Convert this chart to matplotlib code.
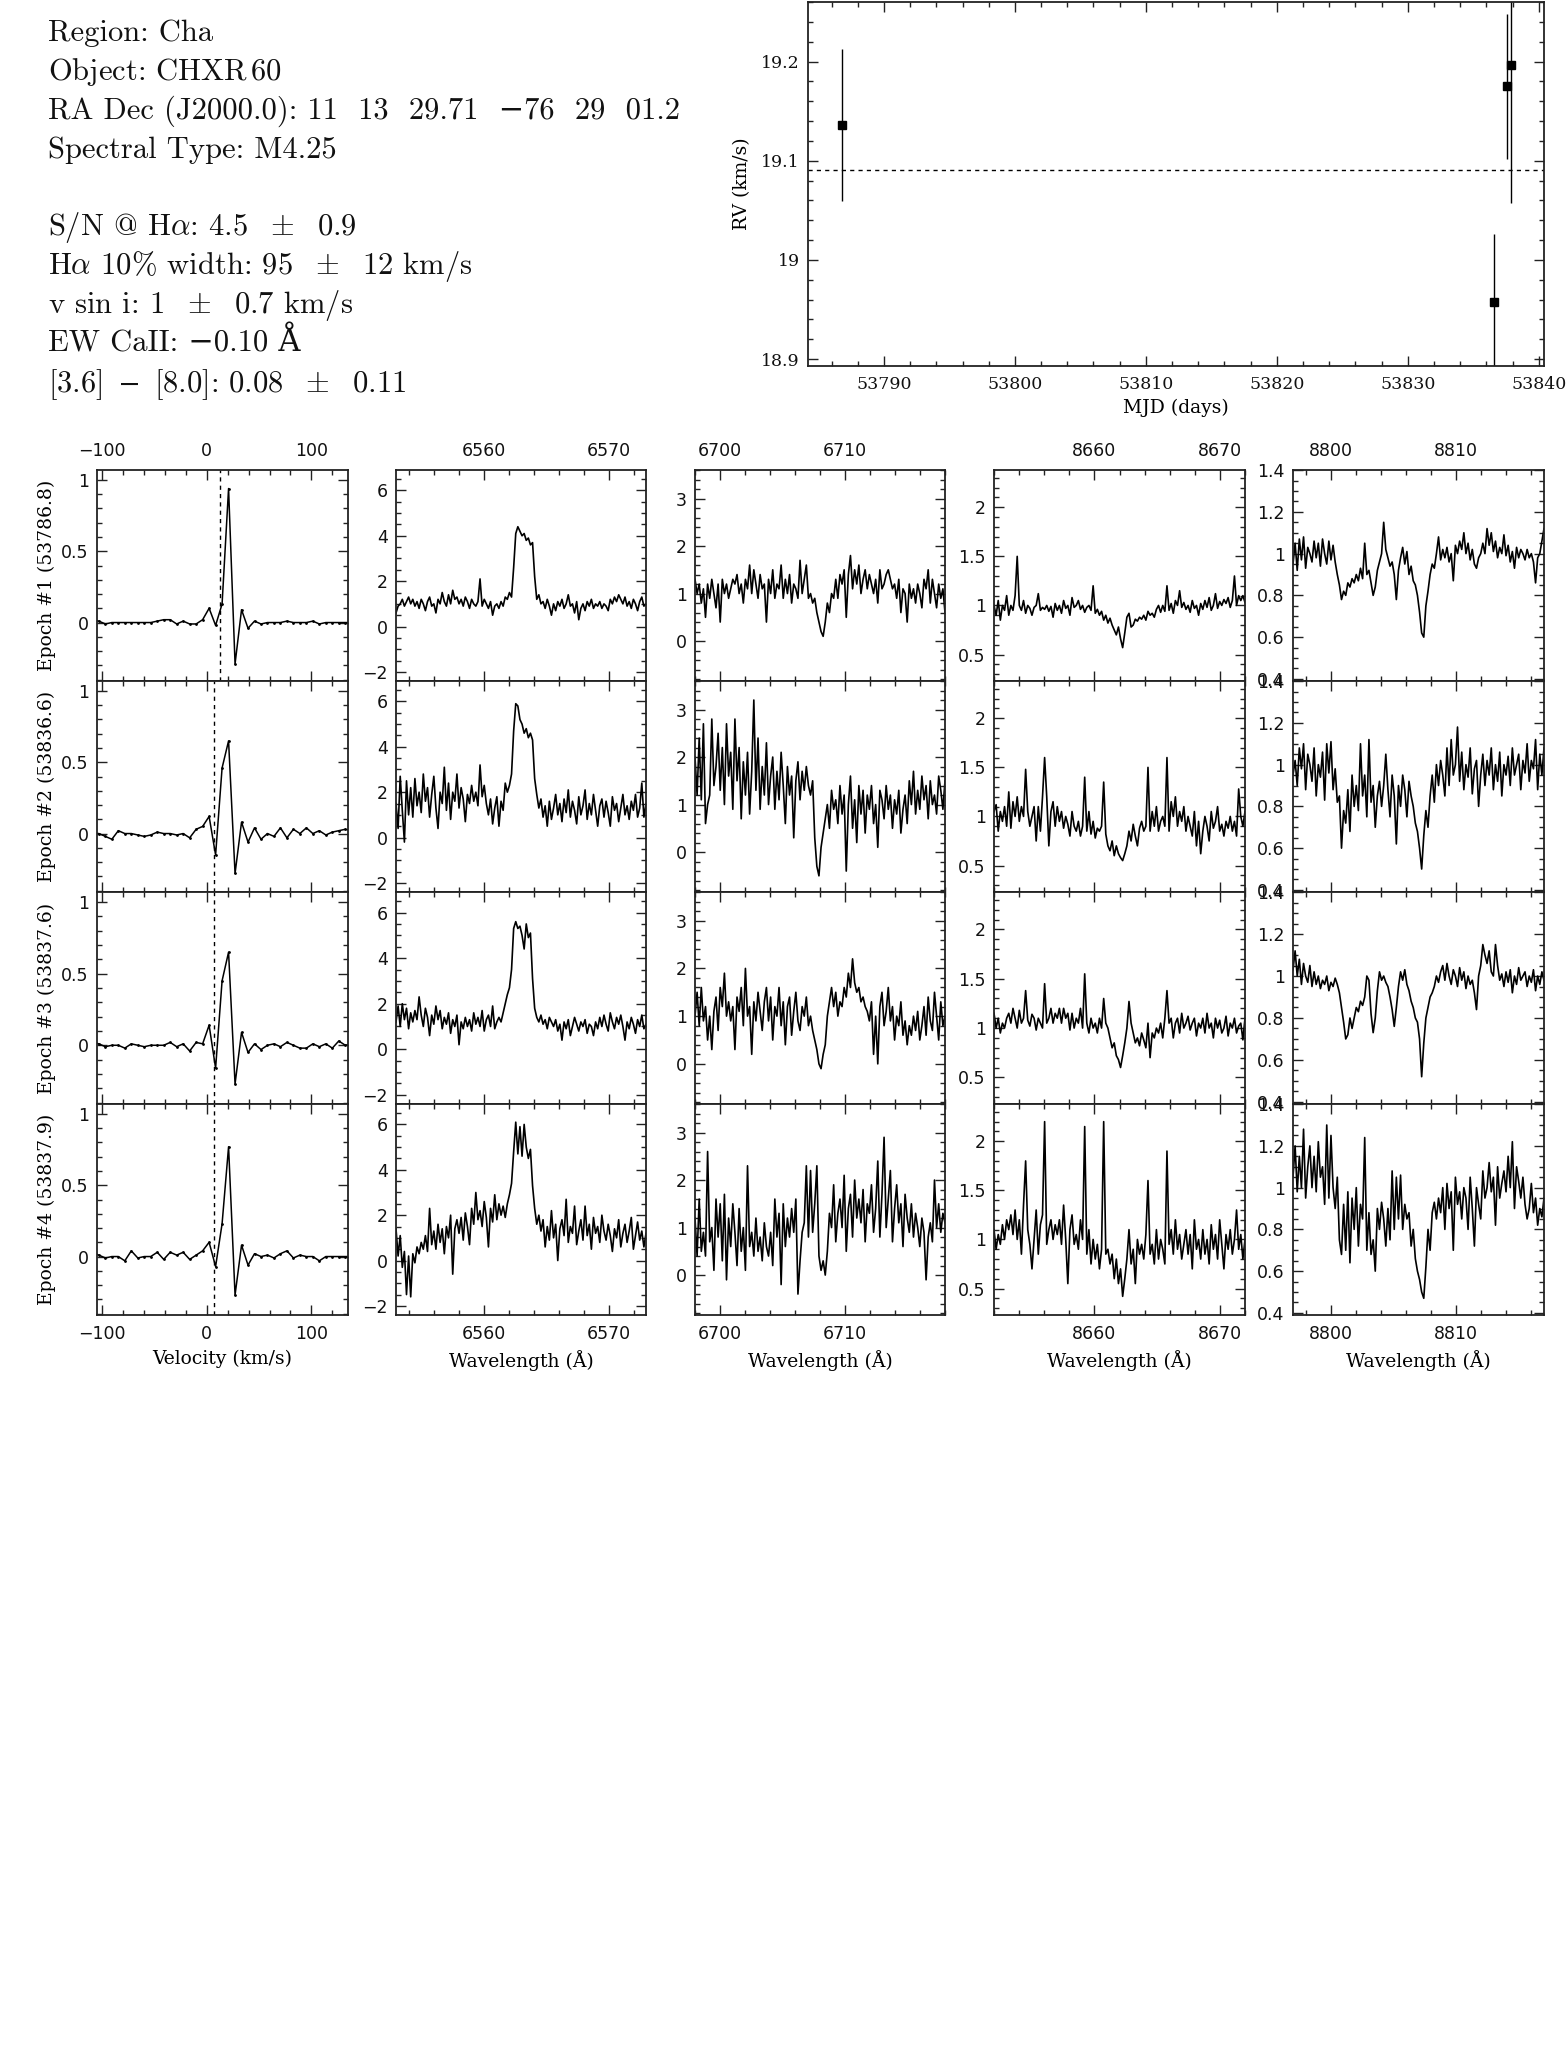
import numpy as np
import matplotlib.pyplot as plt
from matplotlib.ticker import MultipleLocator, FuncFormatter

plt.rcParams['mathtext.fontset'] = 'cm'

# ---- header text ----
header_lines = [
    "Region: Cha",
    "Object: CHXR$\\,$60",
    "RA Dec (J2000.0): 11  13  29.71  \u221276  29  01.2",
    "Spectral Type: M4.25",
    "S/N @ H$\\alpha$: 4.5 $\\;\\pm\\;$ 0.9",
    "H$\\alpha$ 10% width: 95 $\\;\\pm\\;$ 12 km/s",
    "v sin i: 1 $\\;\\pm\\;$ 0.7 km/s",
    "EW CaII: \u22120.10 \u00c5",
    "[3.6] $\\,\\minus\\,$ [8.0]: 0.08 $\\;\\pm\\;$ 0.11",
]

# ---- radial velocities ----
mjd = [53786.8, 53836.6, 53837.6, 53837.9]
rv = [19.136, 18.958, 19.175, 19.196]
rv_err = [0.077, 0.068, 0.073, 0.139]
rv_mean = 19.0905

epoch_labels = ["Epoch #1 (53786.8)", "Epoch #2 (53836.6)",
                "Epoch #3 (53837.6)", "Epoch #4 (53837.9)"]

# ---- cross-correlation functions ----
ccf_vel = [-109.4, -103.2, -97.0, -90.8, -84.6, -78.4, -72.2, -66.0, -59.8, -53.6,
           -47.4, -41.2, -35.0, -28.8, -22.6, -16.4, -10.2, -4.0, 2.2, 8.4,
           14.6, 20.8, 27.0, 33.2, 39.4, 45.6, 51.8, 58.0, 64.2, 70.4,
           76.6, 82.8, 89.0, 95.2, 101.4, 107.6, 113.8, 120.0, 126.2, 132.4, 138.6]
ccf_ep1 = [0.02, 0.01, -0.01, 0.0, 0.0, 0.0, 0.0, 0.0, 0.0, 0.0,
           0.01, 0.02, 0.02, -0.01, 0.01, -0.01, -0.01, 0.02, 0.10, -0.02,
           0.13, 0.94, -0.29, 0.09, -0.04, 0.01, -0.01, 0.0, 0.0, 0.0,
           0.01, 0.0, 0.0, 0.0, 0.01, -0.01, 0.0, 0.0, 0.0, 0.0, 0.0]
ccf_ep2 = [0.0, 0.0, -0.02, -0.04, 0.02, 0.0, 0.0, -0.01, -0.02, -0.01,
           0.01, 0.0, 0.0, -0.01, 0.0, -0.03, 0.03, 0.05, 0.12, -0.15,
           0.46, 0.65, -0.28, 0.08, -0.06, 0.04, -0.04, 0.0, -0.02, 0.04,
           -0.03, 0.03, 0.0, 0.04, 0.0, 0.02, -0.01, 0.01, 0.02, 0.03, 0.02]
ccf_ep3 = [0.02, 0.01, -0.01, 0.0, 0.0, -0.02, 0.01, 0.0, -0.01, 0.0,
           0.0, 0.0, 0.02, -0.01, 0.01, -0.04, 0.02, 0.01, 0.14, -0.16,
           0.45, 0.65, -0.27, 0.09, -0.05, 0.01, -0.03, 0.0, 0.01, -0.01,
           0.02, 0.0, -0.02, -0.02, 0.01, -0.01, 0.01, -0.02, 0.03, 0.0, 0.01]
ccf_ep4 = [0.03, 0.01, -0.01, 0.0, 0.0, -0.03, 0.04, -0.01, 0.0, 0.0,
           0.03, -0.02, 0.03, 0.01, 0.03, -0.02, 0.01, 0.04, 0.10, -0.07,
           0.23, 0.77, -0.27, 0.08, -0.06, 0.02, 0.0, 0.01, -0.01, 0.02,
           0.04, -0.01, 0.01, 0.0, 0.0, -0.03, 0.0, 0.0, 0.0, 0.0, 0.0]
ccf_center = [12.5, 7.0, 6.7, 6.7]

# ---- H-alpha (6553-6573 A) ----
ha_range = [6553.0, 6573.0]
ha_ep1 = [0.6, 0.9, 1.0, 1.2, 0.9, 1.1, 1.3, 1.0, 1.2, 0.9,
          1.1, 0.8, 1.2, 1.0, 0.7, 1.1, 1.3, 0.9, 1.0, 0.6,
          1.2, 1.0, 1.5, 1.1, 0.9, 1.4, 1.0, 1.6, 1.2, 1.3,
          1.0, 1.2, 0.9, 1.3, 1.1, 0.8, 1.2, 1.0, 0.9, 1.1,
          2.1, 0.9, 1.2, 1.0, 0.8, 1.1, 0.5, 0.9, 1.0, 0.8,
          1.1, 0.9, 1.3, 1.2, 1.5, 1.3, 2.6, 4.1, 4.4, 4.2,
          4.0, 4.1, 3.8, 3.9, 3.6, 3.7, 2.2, 1.2, 1.4, 1.0,
          1.1, 0.8, 1.2, 0.9, 0.5, 1.0, 0.7, 1.1, 0.9, 1.2,
          0.8, 1.0, 1.4, 0.9, 1.0, 0.6, 1.1, 0.3, 0.8, 1.0,
          0.7, 1.1, 0.9, 1.2, 0.8, 1.0, 0.9, 1.1, 0.8, 1.0,
          0.9, 0.7, 1.2, 1.0, 1.3, 1.1, 1.4, 1.2, 1.0, 1.3,
          0.9, 1.1, 0.8, 1.2, 1.0, 0.7, 1.1, 1.3, 0.9, 1.0]
ha_ep2 = [1.5, 0.4, 2.7, 1.2, -0.2, 2.5, 1.0, 2.2, 0.9, 2.6,
          1.4, 2.0, 1.1, 2.8, 1.6, 2.2, 0.9, 1.9, 2.7, 1.3,
          0.4, 2.0, 1.5, 3.1, 1.2, 2.4, 0.8, 2.0, 1.6, 2.8,
          1.3, 2.2, 1.7, 0.7, 1.9, 1.5, 2.3, 1.6, 2.0, 1.4,
          3.2, 1.8, 2.3, 1.5, 1.0, 1.7, 0.6, 1.3, 1.8, 0.5,
          1.6, 1.2, 2.4, 2.0, 2.3, 2.8, 4.7, 5.9, 5.8, 5.2,
          5.0, 4.6, 4.8, 4.4, 4.6, 4.3, 2.6, 1.9, 1.3, 1.7,
          0.9, 1.4, 0.5, 1.6, 0.8, 1.3, 1.9, 1.0, 1.5, 0.7,
          1.7, 1.1, 2.1, 0.9, 1.6, 1.2, 0.6, 1.8, 1.0, 1.4,
          2.1, 0.8, 1.5, 1.0, 1.9, 1.2, 0.5, 1.4, 1.7, 0.9,
          1.6, 1.1, 0.5, 1.8, 1.2, 1.5, 0.7, 1.3, 1.9, 1.0,
          1.4, 0.8, 1.6, 1.2, 1.9, 0.9, 1.3, 2.4, 0.9, 1.5]
ha_ep3 = [1.2, 1.9, 1.0, 2.0, 1.3, 1.8, 0.9, 1.6, 1.2, 1.7,
          1.3, 2.3, 1.5, 1.0, 1.8, 1.4, 0.6, 1.5, 1.1, 1.9,
          1.3, 1.7, 0.9, 1.4, 1.1, 1.6, 0.7, 1.3, 1.0, 1.5,
          0.2, 1.2, 0.9, 1.4, 1.0, 1.3, 0.8, 1.6, 1.1, 1.4,
          1.0, 1.7, 0.8, 1.3, 1.5, 1.0, 1.9, 0.9, 1.2, 1.4,
          1.2, 1.6, 2.0, 2.4, 2.7, 3.5, 5.3, 5.6, 5.3, 5.4,
          5.0, 4.4, 5.5, 4.9, 5.1, 3.1, 1.8, 1.4, 1.2, 1.5,
          1.1, 1.3, 0.9, 1.4, 1.2, 1.0, 1.3, 0.8, 1.1, 0.4,
          1.2, 0.9, 1.3, 0.6, 1.0, 1.4, 1.1, 0.8, 1.2, 1.0,
          1.3, 0.7, 1.1, 1.0, 0.6, 1.2, 0.9, 1.4, 1.0, 1.5,
          1.1, 0.8, 1.6, 1.2, 0.9, 1.4, 1.1, 1.5, 1.0, 0.4,
          1.2, 0.9, 1.4, 1.1, 0.7, 1.3, 1.0, 1.5, 0.9, 1.1]
ha_ep4 = [1.4, 0.2, 1.1, -0.3, 0.4, -1.5, 0.2, -1.6, 0.3, -0.1,
          0.6, 0.3, 0.8, 0.5, 1.1, 0.4, 2.3, 0.7, 1.3, 0.5,
          1.6, 0.8, 1.4, 0.3, 1.5, 1.0, 2.0, -0.6, 1.4, 1.8,
          1.2, 1.9, 0.9, 2.1, 1.5, 0.7, 2.3, 1.6, 3.0, 1.8,
          2.2, 1.5, 2.6, 1.9, 0.6, 2.3, 1.7, 2.9, 1.8, 2.5,
          2.0, 2.4, 1.9, 2.5, 2.9, 3.4, 4.8, 6.1, 4.7, 5.9,
          4.6, 6.0, 5.0, 4.5, 4.9, 3.3, 2.3, 1.6, 2.0, 1.3,
          1.8, 0.6, 1.5, 0.9, 2.2, 1.0, 1.6, 0.0, 1.4, 1.8,
          1.1, 2.7, 0.8, 1.5, 1.2, 2.4, 0.7, 1.3, 1.8, 0.9,
          2.4, 1.1, 1.6, 0.5, 1.9, 1.2, 1.5, 0.8, 2.0, 1.3,
          0.9, 1.6, 1.1, 0.4, 1.4, 1.0, 1.8, 0.6, 1.2, 1.6,
          0.8, 1.3, 1.9, 0.5, 1.1, 1.7, 0.9, 1.3, 0.6, 1.2]

# ---- Li I 6708 (6698-6718 A) ----
li_range = [6698.0, 6718.0]
li_ep1 = [1.3, 1.0, 1.2, 0.8, 1.1, 0.5, 1.2, 0.9, 1.3, 1.0,
          0.7, 1.2, 0.4, 1.3, 1.0, 1.2, 0.9, 1.1, 1.3, 1.2,
          1.4, 1.0, 1.2, 0.8, 1.3, 1.1, 1.6, 1.0, 1.5, 1.2,
          0.9, 1.4, 1.1, 1.2, 0.4, 1.3, 1.0, 1.5, 0.9, 1.2,
          1.1, 1.6, 0.9, 1.3, 1.0, 1.4, 0.8, 1.2, 1.1, 0.9,
          1.7, 1.0, 1.3, 1.6, 0.9, 1.0, 0.8, 0.9, 0.6, 0.4,
          0.2, 0.1, 0.4, 0.8, 0.6, 1.0, 0.9, 1.3, 0.9, 1.4,
          1.2, 1.5, 0.5, 1.4, 1.8, 1.1, 1.5, 1.2, 1.6, 1.0,
          1.3, 1.5, 1.1, 1.4, 1.2, 1.0, 1.3, 0.8, 1.5, 1.1,
          1.2, 1.4, 1.5, 1.3, 1.1, 1.2, 0.9, 1.3, 0.6, 1.1,
          1.0, 0.4, 1.2, 0.9, 1.1, 0.8, 1.2, 1.0, 0.7, 1.3,
          1.1, 1.5, 0.8, 1.3, 1.0, 0.7, 1.2, 0.9, 1.1, 0.6]
li_ep2 = [2.0, 1.2, 2.4, 1.1, 2.7, 0.6, 1.0, 1.2, 2.8, 1.4,
          1.8, 2.5, 1.3, 2.2, 1.0, 2.7, 1.6, 2.1, 0.9, 2.8,
          1.5, 2.2, 0.7, 1.9, 1.2, 2.1, 0.8, 1.7, 3.2, 1.3,
          2.4, 0.9, 1.8, 1.2, 2.3, 1.0, 1.6, 2.0, 0.9, 1.7,
          1.1, 2.1, 1.4, 0.6, 1.8, 1.2, 1.6, 0.3, 1.5, 1.9,
          1.1, 1.7, 1.3, 1.8, 1.4, 1.2, 1.5, 0.3, -0.3, -0.5,
          0.1, 0.4, 0.7, 1.0, 0.5, 1.3, 0.9, 1.1, 0.6, 1.4,
          0.8, 1.2, -0.4, 1.0, 1.6, 0.5, 1.1, 0.2, 1.4, 0.8,
          1.3, 0.4, 1.2, 0.9, 1.4, 0.6, 1.0, 0.1, 1.3, 1.1,
          0.7, 1.4, 0.9, 1.2, 0.5, 1.1, 0.8, 1.3, 0.4, 0.9,
          1.2, 0.6, 1.5, 1.0, 1.7, 0.8, 1.3, 0.9, 1.6, 1.1,
          1.4, 0.7, 1.5, 1.0, 1.2, 0.8, 1.6, 1.3, 0.9, 1.5]
li_ep3 = [1.0, 1.5, 0.8, 1.6, 0.9, 1.2, 0.5, 1.0, 0.3, 1.1,
          1.4, 0.7, 1.6, 1.2, 1.9, 1.0, 1.3, 0.9, 1.2, 0.3,
          1.4, 1.1, 1.6, 0.8, 2.0, 1.0, 1.2, 0.2, 1.3, 0.9,
          1.5, 1.1, 0.7, 1.3, 1.6, 0.9, 1.4, 0.5, 1.2, 1.0,
          1.6, 0.8, 1.3, 0.4, 1.2, 1.4, 0.6, 1.1, 1.5, 0.9,
          0.7, 1.2, 1.0, 1.4, 0.8, 1.0, 0.7, 0.5, 0.3, 0.0,
          -0.1, 0.2, 0.4, 1.0, 1.3, 1.6, 1.2, 1.5, 1.0, 1.3,
          1.2, 1.6, 1.4, 1.9, 1.6, 2.2, 1.7, 1.5, 1.6, 1.3,
          1.4, 1.2, 1.1, 0.9, 1.3, 0.2, 1.0, 0.0, 1.2, 1.5,
          0.8, 1.1, 1.6, 0.9, 1.2, 0.5, 1.0, 0.8, 1.3, 0.6,
          0.9, 0.4, 0.8, 0.6, 1.0, 0.7, 1.1, 0.5, 0.8, 1.2,
          0.6, 1.4, 0.9, 0.7, 1.5, 1.0, 0.5, 1.3, 0.8, 1.0]
li_ep4 = [1.2, 0.4, 1.6, 0.5, 0.9, 0.4, 2.6, 0.7, 1.0, 0.1,
          1.6, 0.8, 1.5, 0.3, 1.7, -0.1, 1.2, 0.6, 1.5, 0.9,
          0.2, 1.4, 0.5, 1.0, 0.1, 2.3, 0.6, 0.9, 0.4, 1.2,
          0.5, 0.8, 0.3, 1.1, 0.6, 0.4, 0.9, 0.2, 1.6, 0.8,
          1.3, -0.2, 1.5, 0.6, 1.2, 0.8, 1.4, 0.9, 1.6, -0.4,
          0.3, 0.9, 1.1, 2.3, 0.8, 2.2, 0.9, 1.5, 2.3, 0.4,
          0.1, 0.3, 0.0, 0.5, 1.3, 1.0, 1.9, 0.7, 1.3, 1.6,
          1.0, 2.1, 0.5, 1.4, 1.7, 0.8, 2.0, 1.2, 1.6, 1.1,
          1.8, 0.7, 1.5, 1.3, 1.9, 0.9, 1.4, 2.4, 0.8, 1.7,
          2.9, 1.0, 1.6, 2.2, 0.7, 1.4, 1.9, 1.1, 1.5, 0.6,
          1.7, 1.2, 0.9, 1.5, 0.8, 1.3, 1.0, 0.6, 1.2, 0.9,
          -0.1, 0.8, 1.1, 0.7, 2.0, 1.0, 1.5, 0.9, 1.3, 1.1]

# ---- Ca II 8662 (8652-8672 A) ----
ca_range = [8652.0, 8672.0]
ca_ep1 = [1.0, 0.9, 1.05, 0.85, 1.0, 0.95, 1.1, 0.9, 1.0, 0.95,
          1.1, 1.5, 1.0, 0.95, 1.05, 0.92, 1.0, 0.97, 0.9, 0.98,
          1.0, 1.12, 0.95, 0.98, 0.96, 1.0, 0.94, 0.99, 0.88, 1.02,
          0.95, 1.0, 0.92, 1.05, 0.97, 1.0, 0.9, 1.08, 0.98, 1.0,
          1.05, 0.96, 1.0, 0.93, 0.98, 1.0, 0.95, 1.2, 0.92, 0.96,
          0.9, 0.94, 0.85, 0.9, 0.82, 0.87, 0.8, 0.75, 0.7, 0.78,
          0.66, 0.57, 0.72, 0.88, 0.92, 0.78, 0.8, 0.86, 0.84, 0.88,
          0.86, 0.9, 0.85, 0.94, 0.9, 0.92, 0.88, 0.96, 1.0, 0.93,
          1.0, 0.94, 1.2, 0.95, 1.02, 0.92, 1.05, 1.0, 1.15, 0.98,
          1.03, 0.96, 1.0, 0.93, 1.05, 0.97, 1.0, 0.9, 1.02, 0.96,
          1.05, 0.98, 1.08, 0.95, 1.0, 1.12, 0.97, 1.04, 1.0, 1.06,
          1.02, 1.08, 0.98, 1.05, 1.3, 1.0, 1.1, 1.05, 1.1, 1.03]
ca_ep2 = [1.05, 1.12, 0.85, 1.05, 0.95, 1.1, 0.9, 1.25, 0.88, 1.15,
          1.0, 1.2, 0.95, 1.1, 1.0, 1.48, 1.05, 0.9, 1.0, 1.1,
          0.75, 1.1, 0.85, 1.2, 1.6, 1.2, 0.7, 1.05, 1.15, 0.9,
          1.1, 0.95, 1.05, 0.88, 1.0, 0.92, 0.8, 1.05, 0.9, 0.85,
          0.95, 0.8, 0.9, 1.4, 0.85, 1.05, 0.82, 0.95, 0.78, 0.88,
          0.85, 0.9, 1.35, 0.82, 0.7, 0.65, 0.75, 0.6, 0.7, 0.62,
          0.58, 0.55, 0.62, 0.7, 0.85, 0.75, 0.92, 0.8, 0.7, 0.88,
          0.95, 0.85, 0.9, 1.5, 0.85, 1.05, 0.9, 1.1, 0.85, 0.95,
          1.0, 0.9, 1.6, 0.85, 1.15, 1.0, 1.2, 0.9, 1.05, 0.95,
          1.1, 0.85, 1.0, 0.9, 0.8, 1.05, 0.7, 0.95, 0.62, 0.85,
          1.0, 0.9, 0.75, 1.05, 0.88, 0.95, 1.1, 0.85, 0.92, 0.8,
          0.95, 0.88, 1.0, 0.85, 0.95, 0.8, 1.28, 1.0, 0.9, 1.05]
ca_ep3 = [1.15, 1.0, 1.1, 0.95, 1.05, 1.0, 1.1, 1.15, 1.05, 1.2,
          1.1, 1.0, 1.18, 1.05, 1.1, 1.38, 1.08, 1.02, 1.14, 1.1,
          0.98, 1.1, 1.05, 1.0, 1.45, 1.05, 1.1, 1.2, 1.05, 1.15,
          1.1, 1.2, 1.05, 1.2, 1.1, 1.15, 0.98, 1.15, 1.0, 1.1,
          1.05, 1.2, 1.0, 1.55, 1.05, 0.95, 1.1, 1.0, 1.05, 0.95,
          1.1, 1.0, 1.3, 1.05, 1.0, 0.9, 0.8, 0.85, 0.72, 0.68,
          0.6, 0.72, 0.85, 1.0, 1.27, 1.05, 0.95, 0.85, 0.9, 0.82,
          0.95, 0.88, 0.8, 1.05, 0.7, 0.95, 0.9, 1.0, 0.95, 1.05,
          0.9, 1.1, 1.38, 1.05, 1.1, 0.9, 1.05, 1.1, 0.95, 1.15,
          1.0, 1.05, 1.12, 0.98, 1.05, 1.1, 0.92, 1.05, 1.0, 1.1,
          0.95, 1.15, 1.0, 1.05, 0.9, 1.1, 1.0, 1.08, 0.95, 1.0,
          1.12, 0.92, 1.05, 1.0, 1.1, 0.95, 1.02, 1.05, 0.88, 1.1]
ca_ep4 = [1.1, 0.9, 1.05, 0.95, 1.15, 1.0, 1.2, 1.1, 1.25, 1.05,
          1.3, 1.0, 1.2, 0.85, 1.35, 1.8, 1.1, 0.95, 0.7, 1.0,
          1.3, 0.85, 1.15, 1.25, 2.2, 0.95, 1.1, 1.2, 1.0, 1.15,
          1.05, 1.2, 0.95, 1.35, 1.0, 0.55, 1.1, 1.25, 0.95, 1.05,
          0.9, 1.2, 1.0, 2.15, 0.85, 1.1, 0.75, 1.0, 0.8, 0.95,
          0.7, 0.9, 2.2, 0.85, 0.9, 0.75, 0.85, 0.6, 0.8, 0.55,
          0.7, 0.42, 0.6, 0.8, 1.1, 0.75, 0.9, 0.55, 1.0, 0.85,
          0.95, 0.8, 1.05, 1.6, 0.85, 0.95, 0.75, 1.1, 0.8, 1.0,
          0.9, 0.75, 1.9, 0.95, 1.1, 0.85, 1.2, 0.9, 1.05, 0.8,
          0.95, 1.1, 0.85, 1.05, 0.7, 1.2, 0.9, 1.0, 0.8, 1.1,
          0.85, 1.0, 0.75, 1.15, 0.9, 1.05, 0.8, 1.2, 0.95, 0.7,
          1.05, 0.9, 1.1, 0.85, 1.0, 1.3, 0.9, 1.05, 0.8, 1.0]

# ---- 8797-8817 A region ----
ir_range = [8797.0, 8817.0]
ir_ep1 = [0.95, 1.05, 0.92, 1.07, 0.97, 1.08, 0.93, 1.03, 1.0, 0.96,
          1.06, 0.98, 1.05, 0.94, 1.07, 1.0, 0.95, 1.06, 0.97, 1.04,
          0.96, 0.9, 0.85, 0.78, 0.82, 0.8, 0.86, 0.84, 0.88, 0.86,
          0.9, 0.87, 0.93, 0.88, 1.05, 0.9, 0.92, 0.86, 0.8, 0.84,
          0.92, 0.96, 1.0, 1.15, 1.02, 0.98, 0.94, 0.96, 0.9, 0.78,
          0.92, 0.98, 1.03, 0.95, 1.01, 0.9, 0.94, 0.87, 0.85, 0.8,
          0.72, 0.62, 0.6, 0.75, 0.82, 0.9, 0.95, 0.93, 1.0, 1.08,
          0.97, 1.02, 0.98, 1.03, 0.96, 1.0, 0.87, 1.04, 1.0, 1.06,
          1.02, 1.1, 1.0, 1.05, 0.97, 1.02, 0.95, 0.93, 0.98, 1.0,
          1.05, 1.0, 1.12, 1.04, 1.1, 1.01, 1.06, 0.98, 1.03, 1.0,
          1.09, 0.99, 1.04, 0.96, 1.01, 0.93, 1.03, 0.98, 1.02, 1.0,
          0.97, 1.02, 0.98, 1.0, 0.96, 0.86, 0.98, 1.0, 1.06, 1.12]
ir_ep2 = [0.95, 1.02, 0.9, 1.08, 0.98, 1.1, 0.88, 1.05, 1.0, 0.92,
          1.08, 0.85, 1.0, 0.94, 1.06, 0.83, 1.1, 0.96, 1.11, 0.88,
          0.98, 0.82, 0.85, 0.6, 0.78, 0.72, 0.88, 0.68, 0.95, 0.8,
          0.9, 0.78, 1.1, 0.85, 0.95, 0.75, 1.12, 0.82, 0.9, 0.7,
          0.85, 0.92, 0.8, 0.9, 1.05, 0.88, 0.75, 0.95, 0.85, 0.62,
          0.9, 0.8, 0.95, 0.88, 0.75, 0.92, 0.85, 0.8, 0.72, 0.68,
          0.6, 0.5, 0.66, 0.78, 0.7, 0.85, 0.95, 0.82, 1.0, 0.9,
          1.02, 0.95, 0.85, 1.08, 0.9, 1.12, 0.95, 1.0, 1.18, 0.92,
          1.06, 0.88, 1.0, 0.94, 1.08, 0.86, 0.98, 1.02, 0.8, 0.95,
          1.05, 0.9, 1.02, 0.95, 1.08, 0.88, 1.0, 0.92, 1.06, 0.85,
          1.0, 0.95, 1.04, 0.9, 1.08, 0.95, 1.0, 1.05, 0.88, 1.02,
          0.96, 1.1, 0.92, 1.02, 0.98, 1.12, 0.88, 1.05, 0.95, 1.08]
ir_ep3 = [1.03, 1.12, 1.0, 1.08, 0.96, 1.06, 1.0, 0.97, 1.05, 0.95,
          1.02, 0.96, 1.0, 0.94, 0.98, 0.96, 1.0, 0.93, 0.97, 0.95,
          0.99, 0.96, 0.92, 0.85, 0.78, 0.7, 0.72, 0.8, 0.75, 0.8,
          0.85, 0.83, 0.88, 0.86, 0.9, 1.0, 0.98, 0.82, 0.73, 0.8,
          0.93, 1.02, 0.98, 1.0, 0.97, 0.95, 0.9, 0.84, 0.76, 0.85,
          0.95, 1.02, 0.98, 1.03, 0.96, 0.93, 0.88, 0.85, 0.8, 0.78,
          0.7, 0.52, 0.68, 0.8, 0.85, 0.9, 0.92, 0.95, 1.0, 0.97,
          1.02, 1.05, 0.98, 1.06, 1.0, 0.96, 1.03, 1.0, 0.95, 1.04,
          0.98, 1.02, 0.94, 1.0, 0.96, 0.98, 0.92, 0.84, 1.0, 1.05,
          1.15, 1.1, 1.06, 1.12, 1.02, 1.0, 1.15, 1.05, 0.98, 1.01,
          0.95, 1.02, 0.97, 1.03, 0.92, 1.0, 0.96, 1.04, 0.98, 1.0,
          1.02, 0.95, 1.0, 0.97, 1.03, 0.93, 1.0, 0.96, 1.02, 0.98]
ir_ep4 = [1.05, 1.2, 0.98, 1.15, 1.0, 1.28, 0.95, 1.1, 1.2, 1.0,
          1.15, 0.98, 1.22, 1.05, 1.1, 0.92, 1.3, 0.95, 1.25, 1.0,
          0.9, 1.05, 0.75, 0.68, 0.92, 0.7, 0.98, 0.64, 0.95, 0.8,
          1.0, 0.72, 0.92, 0.85, 1.24, 0.7, 0.88, 0.68, 0.75, 0.6,
          0.9, 0.8, 0.93, 0.85, 0.72, 0.9, 0.75, 1.08, 0.8, 1.05,
          0.85, 1.06, 0.8, 0.92, 0.85, 0.88, 0.72, 0.8, 0.66, 0.6,
          0.56, 0.5, 0.47, 0.62, 0.8, 0.7, 0.88, 0.93, 0.85, 0.95,
          0.88, 1.0, 0.8, 1.02, 0.9, 0.98, 0.7, 1.05, 0.92, 0.98,
          0.85, 1.0, 0.95, 0.8, 1.05, 0.9, 0.72, 1.0, 0.92, 0.85,
          1.08, 0.95, 1.0, 1.12, 0.98, 1.05, 0.82, 1.1, 0.95, 1.02,
          1.08, 0.98, 1.15, 1.0, 1.22, 0.9, 1.1, 1.03, 0.95, 1.05,
          0.92, 0.85, 0.9, 1.02, 0.88, 0.95, 0.82, 0.9, 0.86, 0.95]

W, H = 1566, 2068
fig = plt.figure(figsize=(W / 100, H / 100), dpi=100)


def box(x0, y0, x1, y1):
    return [x0 / W, 1 - y1 / H, (x1 - x0) / W, (y1 - y0) / H]


def fmt(v, pos):
    if abs(v) < 1e-9:
        v = 0.0
    return ('%g' % round(v, 6)).replace('-', '\u2212')


def style(ax, xmaj, xmin, ymaj, ymin, tickfont='DejaVu Sans', size=12.5):
    ax.xaxis.set_major_locator(MultipleLocator(xmaj))
    ax.xaxis.set_minor_locator(MultipleLocator(xmin))
    ax.yaxis.set_major_locator(MultipleLocator(ymaj))
    ax.yaxis.set_minor_locator(MultipleLocator(ymin))
    ax.xaxis.set_major_formatter(FuncFormatter(fmt))
    ax.yaxis.set_major_formatter(FuncFormatter(fmt))
    ax.tick_params(which='both', direction='in', top=True, right=True, width=1.0,
                   color='#222222', labelcolor='#111111')
    ax.tick_params(which='major', length=7, labelsize=size, labelfontfamily=tickfont)
    ax.tick_params(which='minor', length=3.5)
    ax.tick_params(axis='x', pad=7)
    ax.tick_params(axis='y', pad=6)
    for sp in ax.spines.values():
        sp.set_linewidth(1.3)
        sp.set_color('#222222')


label_font = dict(family='DejaVu Serif', fontsize=13.5)

# header text block
header_y = [41, 80, 119, 158, 235, 274, 313, 352, 392]
for line, y in zip(header_lines, header_y):
    fig.text(48 / W, 1 - y / H, line, fontsize=22, va='baseline',
             family=['cmr10', 'DejaVu Serif'], color='#111111')

# RV panel
ax = fig.add_axes(box(808, 2, 1544, 366))
ax.errorbar(mjd, rv, yerr=rv_err, fmt='s', color='black', ms=6, lw=1.0,
            elinewidth=1.0, capsize=0)
ax.axhline(rv_mean, color='black', lw=1.0, ls=(0, (3, 3)))
ax.set_xlim(53784.2, 53840.4)
ax.set_ylim(18.893, 19.26)
style(ax, 10, 2, 0.1, 0.02, tickfont='DejaVu Serif', size=12.5)
ax.set_xlabel('MJD (days)', **label_font)
ax.set_ylabel('RV (km/s)', **label_font)
ax.xaxis.set_label_coords(0.5, -0.09)
ax.yaxis.set_label_coords(-0.077, 0.5)

# spectra grid
col_x = [(97, 348), (396, 646), (695, 945), (994, 1245), (1293, 1544)]
row_y = [(470, 681), (681, 892), (892, 1104), (1104, 1315)]

ccf_data = [ccf_ep1, ccf_ep2, ccf_ep3, ccf_ep4]
spec_cols = [
    (ha_range, [ha_ep1, ha_ep2, ha_ep3, ha_ep4], (-2.4, 6.9), 2, 0.5),
    (li_range, [li_ep1, li_ep2, li_ep3, li_ep4], (-0.84, 3.6), 1, 0.2),
    (ca_range, [ca_ep1, ca_ep2, ca_ep3, ca_ep4], (0.23, 2.38), 0.5, 0.1),
    (ir_range, [ir_ep1, ir_ep2, ir_ep3, ir_ep4], (0.39, 1.4005), 0.2, 0.05),
]

for r, (y0, y1) in enumerate(row_y):
    # cross-correlation column
    ax = fig.add_axes(box(col_x[0][0], y0, col_x[0][1], y1))
    ax.plot(ccf_vel, ccf_data[r], color='black', lw=1.1, marker='.', ms=2)
    ax.axvline(ccf_center[r], color='black', lw=1.0, ls=(0, (3, 3)))
    ax.set_xlim(-105, 135)
    ax.set_ylim(-0.41, 1.07)
    style(ax, 100, 20, 0.5, 0.1)
    ax.tick_params(labeltop=(r == 0), labelbottom=(r == 3))
    ax.set_ylabel(epoch_labels[r], **label_font)
    ax.yaxis.set_label_coords(-0.165, 0.5)
    if r == 3:
        ax.set_xlabel('Velocity (km/s)', **label_font)
        ax.xaxis.set_label_coords(0.5, -0.165)

    for c, (wrange, fluxes, ylim, ymaj, ymin) in enumerate(spec_cols):
        x0, x1 = col_x[c + 1]
        ax = fig.add_axes(box(x0, y0, x1, y1))
        flux = fluxes[r]
        wl = np.linspace(wrange[0], wrange[1], len(flux))
        ax.plot(wl, flux, color='black', lw=1.2)
        ax.set_xlim(wrange[0], wrange[1])
        ax.set_ylim(*ylim)
        style(ax, 10, 2, ymaj, ymin)
        ax.tick_params(labeltop=(r == 0), labelbottom=(r == 3))
        if r == 3:
            ax.set_xlabel('Wavelength (\u00c5)', **label_font)
            ax.xaxis.set_label_coords(0.5, -0.165)

fig.savefig('out.png', dpi=100, facecolor='white')
